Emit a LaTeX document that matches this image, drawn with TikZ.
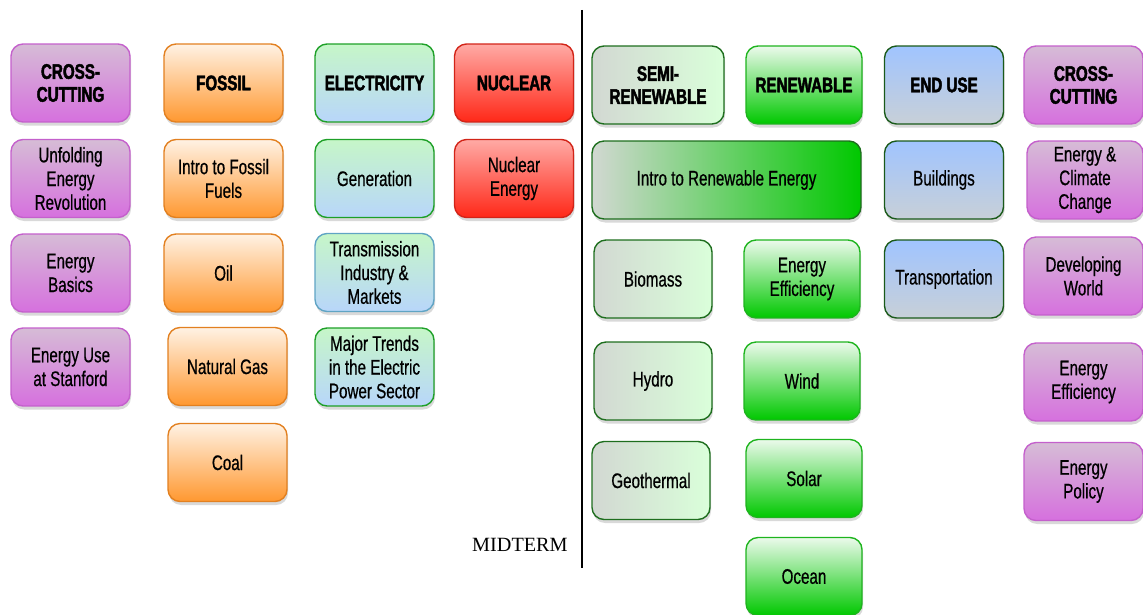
\documentclass[tikz,border=0pt]{standalone}
\usepackage{fontspec}
\usepackage{tikz}
\usetikzlibrary{positioning, shadows}
\usepackage{xcolor}
\newfontfamily\boxfont{Liberation Sans}[FakeStretch=0.72, FakeBold=0.6, BoldFeatures={FakeBold=2.2}]
\newfontfamily\examfont{Liberation Serif}

\definecolor{crosstop}{RGB}{214,188,214}
\definecolor{crossbot}{RGB}{214,112,222}
\definecolor{crossline}{RGB}{196,96,204}
\definecolor{fossiltop}{RGB}{255,242,228}
\definecolor{fossilbot}{RGB}{255,152,48}
\definecolor{fossilline}{RGB}{226,128,32}
\definecolor{electop}{RGB}{198,246,200}
\definecolor{elecbot}{RGB}{184,214,250}
\definecolor{elecline}{RGB}{30,160,40}
\definecolor{gridline}{RGB}{96,164,196}
\definecolor{nuketop}{RGB}{255,170,165}
\definecolor{nukebot}{RGB}{255,40,24}
\definecolor{nukeline}{RGB}{210,36,24}
\definecolor{semileft}{RGB}{210,216,210}
\definecolor{semiright}{RGB}{218,255,218}
\definecolor{darkline}{RGB}{30,110,30}
\definecolor{renewtop}{RGB}{236,250,236}
\definecolor{renewbot}{RGB}{0,200,0}
\definecolor{renewline}{RGB}{30,180,30}
\definecolor{usetop}{RGB}{160,196,255}
\definecolor{usebot}{RGB}{200,208,216}
\definecolor{useline}{RGB}{26,90,26}

\begin{document}
\begin{tikzpicture}[x=0.02cm, y=-0.02cm]
    \tikzstyle{course} = [rounded corners=0.24cm, minimum width=2.38cm, minimum height=1.56cm,
        align=center, line width=0.8pt, inner sep=1pt,
        font=\boxfont\fontsize{12}{13.5}\selectfont,
        drop shadow={shadow xshift=0.6pt, shadow yshift=-2pt, opacity=0.3}]
    \tikzstyle{head} = [course, font=\boxfont\bfseries\fontsize{12}{13}\selectfont]
    \tikzstyle{cross} = [draw=crossline, top color=crosstop, bottom color=crossbot]
    \tikzstyle{fossil} = [draw=fossilline, top color=fossiltop, bottom color=fossilbot]
    \tikzstyle{elec} = [draw=elecline, top color=electop, bottom color=elecbot]
    \tikzstyle{grid} = [draw=gridline, top color=electop, bottom color=elecbot]
    \tikzstyle{nuke} = [draw=nukeline, top color=nuketop, bottom color=nukebot]
    \tikzstyle{semi} = [draw=darkline, left color=semileft, right color=semiright]
    \tikzstyle{renew} = [draw=renewline, top color=renewtop, bottom color=renewbot]
    \tikzstyle{enduse} = [draw=useline, top color=usetop, bottom color=usebot]
    \useasboundingbox (0,0) rectangle (1143,615);

    % cross-cutting (left)
    \node [head, cross] at (70.5,83) (crossL) {CROSS-\\CUTTING};
    \node [course, cross] at (70.5,178.5) (unfold) {Unfolding\\Energy\\Revolution};
    \node [course, cross] at (70.5,273) (basics) {Energy\\Basics};
    \node [course, cross] at (70.5,367) (stanford) {Energy Use\\at Stanford};

    % fossil
    \node [head, fossil] at (223.5,83) (fossil) {FOSSIL};
    \node [course, fossil] at (223.5,178.5) (introfossil) {Intro to Fossil\\Fuels};
    \node [course, fossil] at (223.5,273) (oil) {Oil};
    \node [course, fossil] at (227.5,366.5) (gas) {Natural Gas};
    \node [course, fossil] at (227.5,462.5) (coal) {Coal};

    % electricity
    \node [head, elec] at (374.5,83) (elec) {ELECTRICITY};
    \node [course, elec] at (374.5,178.5) (generation) {Generation};
    \node [course, grid] at (374.5,272.5) (transmission) {Transmission\\Industry \&\\Markets};
    \node [course, elec] at (374.5,367) (trends) {Major Trends\\in the Electric\\Power Sector};

    % nuclear
    \node [head, nuke] at (514,83) (nuclear) {NUCLEAR};
    \node [course, nuke] at (514,178.5) (nukeenergy) {Nuclear\\Energy};

    % midterm split
    \coordinate (splittop) at (582,10);
    \coordinate (splitbot) at (582,568);
    \draw [line width=1pt] (splittop) -- (splitbot);
    \node [anchor=east, inner sep=0pt, font=\examfont\fontsize{11.5}{13}\selectfont] at (568,545) (midterm) {MIDTERM};

    % semi-renewable
    \node [head, semi, minimum width=2.64cm] at (658,85) (semi) {SEMI-\\RENEWABLE};
    \node [course, minimum width=5.38cm, draw=darkline, left color=semileft, right color=renewbot] at (726.5,180) (introrenew) {Intro to Renewable Energy};
    \node [course, semi, minimum width=2.36cm] at (653,279) (biomass) {Biomass};
    \node [course, semi, minimum width=2.36cm] at (653,381) (hydro) {Hydro};
    \node [course, semi, minimum width=2.36cm] at (651,480.5) (geo) {Geothermal};

    % renewable
    \node [head, renew, minimum width=2.32cm] at (804,85) (renew) {RENEWABLE};
    \node [course, renew, minimum width=2.32cm] at (802,279) (effR) {Energy\\Efficiency};
    \node [course, renew, minimum width=2.32cm] at (802,381) (wind) {Wind};
    \node [course, renew, minimum width=2.32cm] at (804,478.5) (solar) {Solar};
    \node [course, renew, minimum width=2.32cm] at (804,576.5) (ocean) {Ocean};

    % end use
    \node [head, enduse] at (944,85) (enduse) {END USE};
    \node [course, enduse] at (944,180) (buildings) {Buildings};
    \node [course, enduse] at (944,279) (transport) {Transportation};

    % cross-cutting (right)
    \node [head, cross] at (1083.5,85) (crossR) {CROSS-\\CUTTING};
    \node [course, cross, minimum width=2.32cm] at (1085,180) (climate) {Energy \&\\Climate\\Change};
    \node [course, cross] at (1083.5,276) (developing) {Developing\\World};
    \node [course, cross] at (1083.5,382) (effC) {Energy\\Efficiency};
    \node [course, cross] at (1083.5,481.5) (policy) {Energy\\Policy};
\end{tikzpicture}
\end{document}
